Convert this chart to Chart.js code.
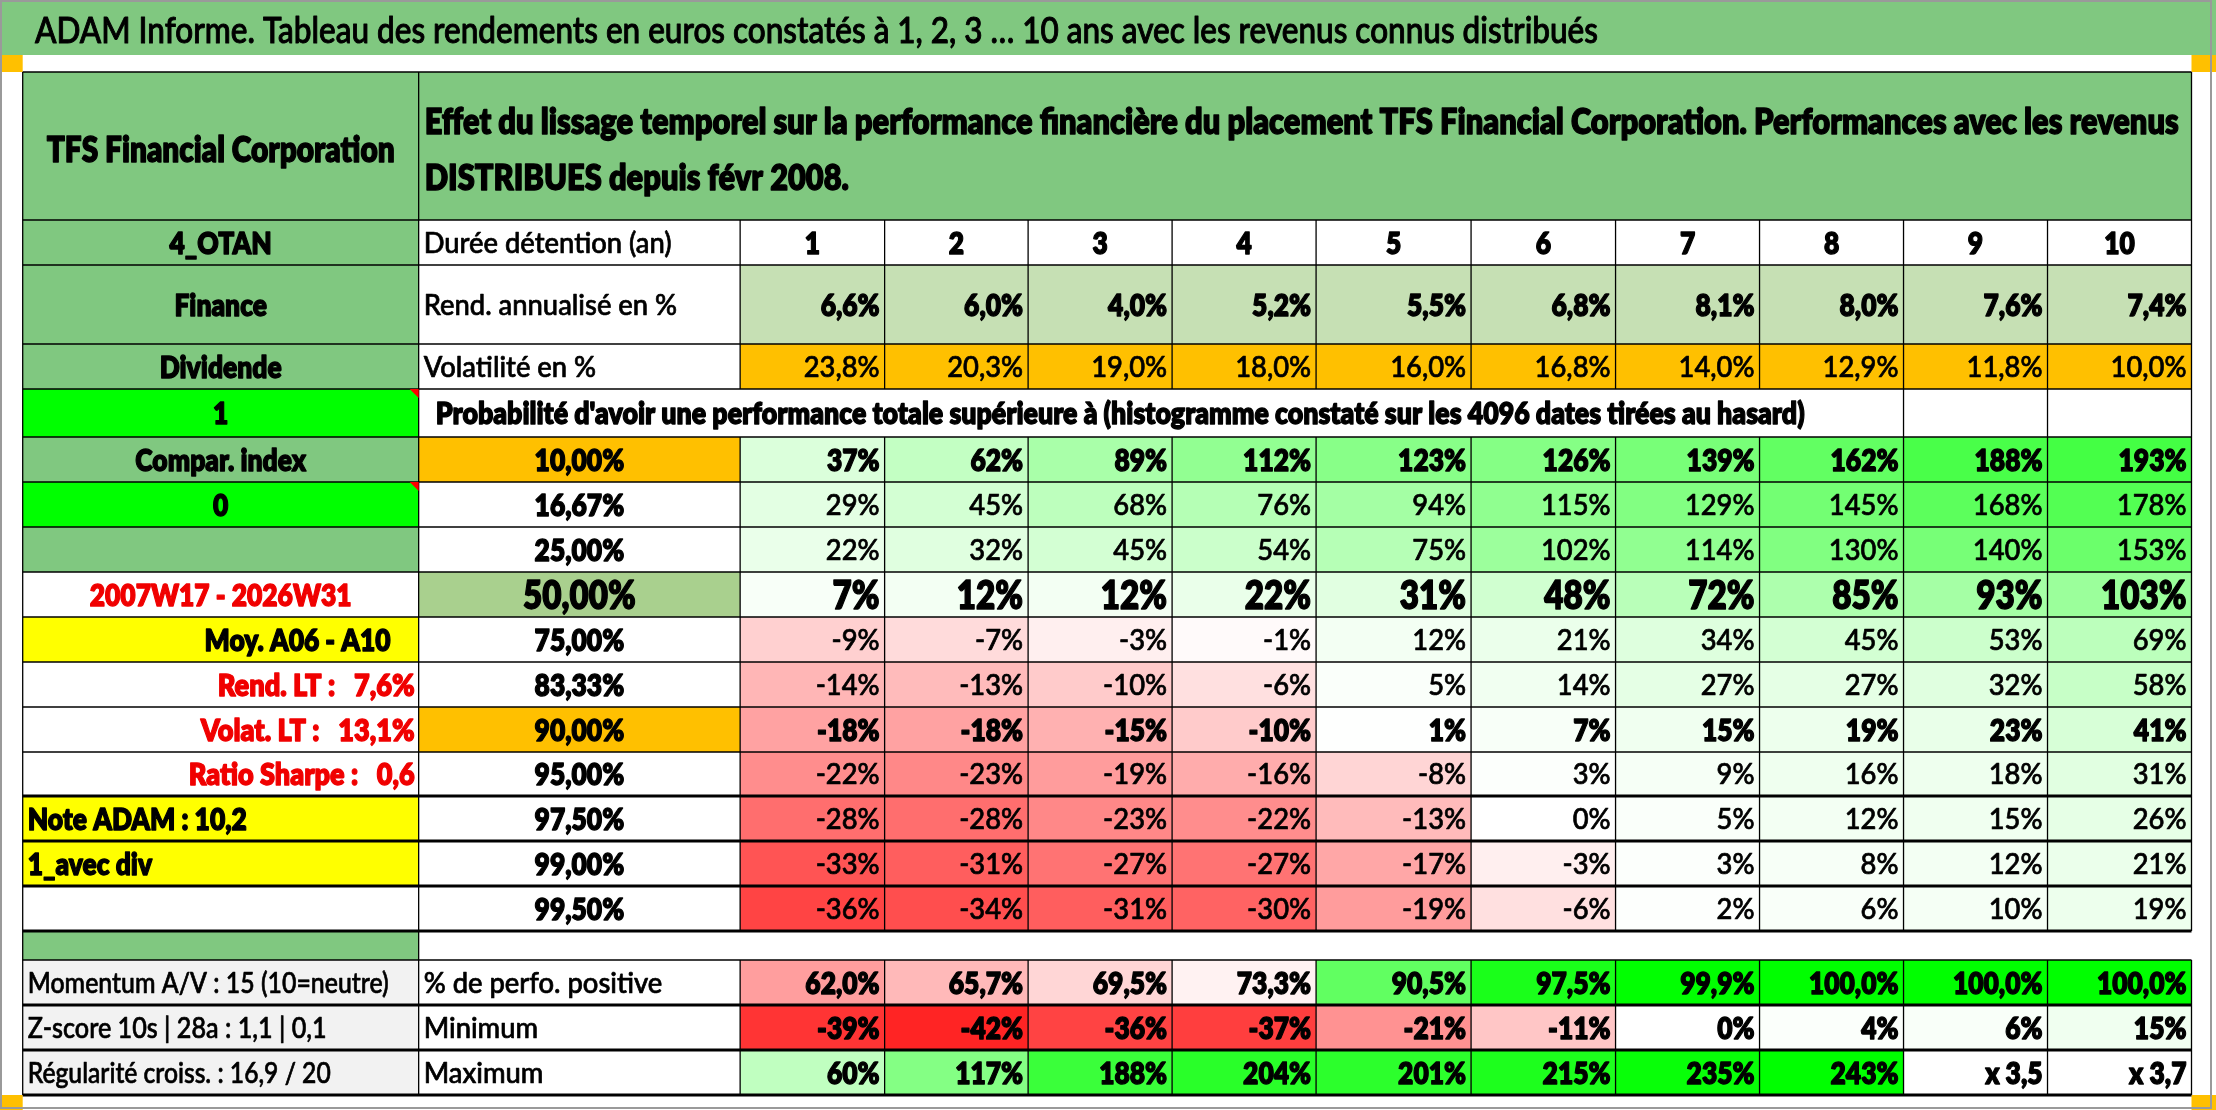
<!DOCTYPE html>
<html>
<head>
<meta charset="utf-8">
<script src="https://cdn.jsdelivr.net/npm/chart.js@4.4.1/dist/chart.umd.min.js"></script>
<style>
html, body { margin: 0; padding: 0; background: #fff; overflow: hidden; }
canvas { display: block; }
</style>
</head>
<body>
<canvas id="adam_table" width="2216" height="1110"></canvas>
<script>
var titre = 'ADAM Informe. Tableau des rendements en euros constatés à 1, 2, 3 … 10 ans avec les revenus connus distribués';
var enteteTexte = [
   'Effet du lissage temporel sur la performance financière du placement TFS Financial Corporation. Performances avec les revenus',
   'DISTRIBUES depuis févr 2008.'
];
var etiquettesGauche = ['TFS Financial Corporation', '4_OTAN', 'Finance', 'Dividende', '1', 'Compar. index', '0', '',
   '2007W17 - 2026W31', 'Moy. A06 - A10', 'Rend. LT :   7,6%', 'Volat. LT :   13,1%', 'Ratio Sharpe :   0,6',
   'Note ADAM : 10,2', '1_avec div', '', '', 'Momentum A/V : 15 (10=neutre)', 'Z-score 10s | 28a : 1,1 | 0,1',
   'Régularité croiss. : 16,9 / 20'];
var etiquettesLignes = ['Durée détention (an)', 'Rend. annualisé en %', 'Volatilité en %'];
var probaTexte = "Probabilité d'avoir une performance totale supérieure à (histogramme constaté sur les 4096 dates tirées au hasard)";
var etiquettesBas = ['% de perfo. positive', 'Minimum', 'Maximum'];

var durees = [1, 2, 3, 4, 5, 6, 7, 8, 9, 10];
var rendAnnualise = [6.6, 6.0, 4.0, 5.2, 5.5, 6.8, 8.1, 8.0, 7.6, 7.4];
var volatilite = [23.8, 20.3, 19.0, 18.0, 16.0, 16.8, 14.0, 12.9, 11.8, 10.0];
var seuils = [10, 16.67, 25, 50, 75, 83.33, 90, 95, 97.5, 99, 99.5];
var perfSeuils = [
   [37, 62, 89, 112, 123, 126, 139, 162, 188, 193],
   [29, 45, 68, 76, 94, 115, 129, 145, 168, 178],
   [22, 32, 45, 54, 75, 102, 114, 130, 140, 153],
   [7, 12, 12, 22, 31, 48, 72, 85, 93, 103],
   [-9, -7, -3, -1, 12, 21, 34, 45, 53, 69],
   [-14, -13, -10, -6, 5, 14, 27, 27, 32, 58],
   [-18, -18, -15, -10, 1, 7, 15, 19, 23, 41],
   [-22, -23, -19, -16, -8, 3, 9, 16, 18, 31],
   [-28, -28, -23, -22, -13, 0, 5, 12, 15, 26],
   [-33, -31, -27, -27, -17, -3, 3, 8, 12, 21],
   [-36, -34, -31, -30, -19, -6, 2, 6, 10, 19]
];
var perfPositive = [62.0, 65.7, 69.5, 73.3, 90.5, 97.5, 99.9, 100.0, 100.0, 100.0];
var perfMinimum = [-39, -42, -36, -37, -21, -11, 0, 4, 6, 15];
var perfMaximum = [60, 117, 188, 204, 201, 215, 235, 243];
var multipleMaximum = [3.5, 3.7];

// ---- mise en page (largeurs / hauteurs des cellules) ----
var colWidths = [396, 321.5, 144.5, 143.5, 144, 144, 155, 144.5, 144, 144, 144, 144];
var rowHeights = [148, 45, 79, 45, 48, 45, 45, 45, 45, 45, 45, 45, 44, 45, 45, 45, 29, 45, 45, 45];
var thickBelow = [12, 13, 14, 15, 17, 18, 19];

var FONT = 'Lato, "Open Sans", sans-serif';
var W_REG = '500', W_BOLD = '800';
var REG = 29, BOLD = 31, BIG = 39;
var VERT = '#80C880', VERT_CLAIR = '#C6E0B4', VERT_MOY = '#A9D08E', ORANGE = '#FFC000',
   VERT_VIF = '#00FF00', JAUNE = '#FFFF00', GRIS = '#F2F2F2', BLANC = '#FFFFFF', ROUGE = '#F00000';

var styleGauche = [
   { bg: VERT, al: 'c', b: 1, sz: 35 }, { bg: VERT, al: 'c', b: 1 }, { bg: VERT, al: 'c', b: 1 }, { bg: VERT, al: 'c', b: 1 },
   { bg: VERT_VIF, al: 'c', b: 1, tri: 1 }, { bg: VERT, al: 'c', b: 1 }, { bg: VERT_VIF, al: 'c', b: 1, tri: 1 }, { bg: VERT },
   { bg: BLANC, al: 'c', b: 1, col: ROUGE }, { bg: JAUNE, al: 'r', b: 1, pad: 24 },
   { bg: BLANC, al: 'r', b: 1, col: ROUGE, w: 197 }, { bg: BLANC, al: 'r', b: 1, col: ROUGE, w: 214 },
   { bg: BLANC, al: 'r', b: 1, col: ROUGE, w: 226 }, { bg: JAUNE, al: 'l', b: 1 },
   { bg: JAUNE, al: 'l', b: 1 }, { bg: BLANC }, { bg: VERT },
   { bg: GRIS, al: 'l', b: 0, w: 361 }, { bg: GRIS, al: 'l', b: 0, w: 299 }, { bg: GRIS, al: 'l', b: 0, w: 303 }
];

function cumul(a) {
   var r = [0];
   a.forEach(function (v) { r.push(r[r.length - 1] + v); });
   return r;
}
var colEdges = cumul(colWidths);
var rowEdges = cumul(rowHeights);

function mix(c1, c2, t) {
   return 'rgb(' + [0, 1, 2].map(function (i) { return Math.round(c1[i] + (c2[i] - c1[i]) * t); }).join(',') + ')';
}
function echelle(v, lo, mid, hi, cLo, cHi) {
   var w = [255, 255, 255];
   if (v <= mid) return mix(w, cLo, Math.min(1, (mid - v) / (mid - lo || 1)));
   return mix(w, cHi, Math.min(1, (v - mid) / (hi - mid)));
}
function pct(v, d) {
   return v.toFixed(d).replace('.', ',') + '%';
}

var sx = { r: 1, b: 1 };
function police(size, bold) {
   return (bold ? W_BOLD : W_REG) + ' ' + size + 'px ' + FONT;
}
function largeur(ctx, s, size, bold) {
   ctx.font = police(size, bold);
   return ctx.measureText(s).width;
}
// o : { k: facteur horizontal imposé, w: largeur visée, lw: épaisseur du trait }
function texte(ctx, s, x, yc, al, size, bold, color, o) {
   o = o || {};
   ctx.save();
   ctx.font = police(size, bold);
   var raw = ctx.measureText(s).width;
   var f = o.w ? o.w / raw : (o.k || (bold ? sx.b : sx.r));
   var w = raw * f;
   var x0 = al === 'c' ? x - w / 2 : (al === 'r' ? x - w : x);
   ctx.translate(x0, yc + size * 0.36);
   ctx.scale(f, 1);
   ctx.fillStyle = color || '#000';
   ctx.strokeStyle = color || '#000';
   ctx.lineWidth = o.lw || (bold ? 1.3 : 0.7);
   ctx.lineJoin = 'round';
   ctx.textAlign = 'left';
   ctx.textBaseline = 'alphabetic';
   ctx.fillText(s, 0, 0);
   ctx.strokeText(s, 0, 0);
   ctx.restore();
}

var tableau = {
   id: 'tableau',
   afterDraw: function (chart) {
      var ctx = chart.ctx;
      var xs = chart.scales.x, ys = chart.scales.y;
      var X = function (i) { return xs.getPixelForValue(colEdges[i]); };
      var Y = function (j) { return ys.getPixelForValue(rowEdges[j]); };
      var cell = function (c0, c1, r, color) {
         ctx.fillStyle = color;
         ctx.fillRect(X(c0), Y(r), X(c1) - X(c0), Y(r + 1) - Y(r));
      };
      var mid = function (r) { return (Y(r) + Y(r + 1)) / 2; };

      sx.r = 248 / largeur(ctx, 'Durée détention (an)', REG, false);
      sx.b = 348 / largeur(ctx, 'TFS Financial Corporation', 35, true);

      // bandeau titre
      var W = chart.width;
      ctx.fillStyle = VERT;
      ctx.fillRect(0, 0, W, 55);
      ctx.fillStyle = '#FFC000';
      ctx.fillRect(0, 55, X(0), 17);
      ctx.fillRect(X(12), 55, W - X(12), 17);
      ctx.fillRect(0, Y(20), X(0), chart.height - Y(20));
      ctx.fillRect(X(12), Y(20), W - X(12), chart.height - Y(20));
      texte(ctx, titre, 35, 30, 'l', 36, false, '#000', { w: 1563, lw: 1 });

      // fonds de cellules
      styleGauche.forEach(function (st, r) { cell(0, 1, r, st.bg); });
      cell(1, 12, 0, VERT);
      for (var i = 0; i < 10; i++) {
         cell(i + 2, i + 3, 2, VERT_CLAIR);
         cell(i + 2, i + 3, 3, ORANGE);
      }
      var flat = [].concat.apply([], perfSeuils);
      var lo = Math.min.apply(null, flat), hi = Math.max.apply(null, flat);
      seuils.forEach(function (s, k) {
         var r = k + 5;
         var bg = (k === 0 || k === 6) ? ORANGE : (k === 3 ? VERT_MOY : BLANC);
         cell(1, 2, r, bg);
         perfSeuils[k].forEach(function (v, i) {
            cell(i + 2, i + 3, r, echelle(v, lo, 0, hi, [255, 68, 68], [68, 255, 68]));
         });
      });
      var maxHi = Math.max.apply(null, perfMaximum);
      for (i = 0; i < 10; i++) {
         cell(i + 2, i + 3, 17, echelle(perfPositive[i], 50, 75, 100, [255, 68, 68], [0, 255, 0]));
         cell(i + 2, i + 3, 18, echelle(perfMinimum[i], -42, 0, 250, [255, 36, 36], [0, 255, 0]));
         cell(i + 2, i + 3, 19, i < perfMaximum.length ? echelle(perfMaximum[i], 0, 0, maxHi, [255, 255, 255], [0, 255, 0]) : BLANC);
      }

      // traits
      ctx.strokeStyle = '#000';
      var hline = function (c0, c1, r, w) {
         ctx.lineWidth = w;
         ctx.beginPath(); ctx.moveTo(X(c0), Y(r)); ctx.lineTo(X(c1), Y(r)); ctx.stroke();
      };
      var vline = function (c, r0, r1, w) {
         ctx.lineWidth = w || 1.3;
         ctx.beginPath(); ctx.moveTo(X(c), Y(r0)); ctx.lineTo(X(c), Y(r1)); ctx.stroke();
      };
      for (var r = 0; r <= 20; r++) {
         hline(0, 12, r, thickBelow.indexOf(r - 1) >= 0 ? 3 : 1.4);
      }
      vline(0, 0, 20); vline(12, 0, 16); vline(12, 17, 20);
      vline(1, 0, 20);
      for (var c = 2; c <= 11; c++) {
         vline(c, 1, 4);
         vline(c, 5, 16);
         vline(c, 17, 20);
      }
      vline(10, 4, 5); vline(11, 4, 5);
      // coins commentaires
      [4, 6].forEach(function (rr) {
         ctx.fillStyle = '#FF0000';
         ctx.beginPath();
         ctx.moveTo(X(1) - 9, Y(rr));
         ctx.lineTo(X(1), Y(rr));
         ctx.lineTo(X(1), Y(rr) + 9);
         ctx.closePath(); ctx.fill();
      });

      // textes colonne gauche
      etiquettesGauche.forEach(function (s, r) {
         if (!s) return;
         var st = styleGauche[r];
         var x = st.al === 'c' ? (X(0) + X(1)) / 2 : (st.al === 'r' ? X(1) - 4 - (st.pad || 0) : X(0) + 5);
         texte(ctx, s, x, mid(r) + (r === 0 ? 3 : 0), st.al, st.sz || (st.b ? BOLD : REG), st.b, st.col, { w: st.w });
      });
      // entête
      var k0 = 1754 / largeur(ctx, enteteTexte[0], 35, true);
      texte(ctx, enteteTexte[0], X(1) + 6, 121, 'l', 35, true, '#000', { k: k0 });
      texte(ctx, enteteTexte[1], X(1) + 6, 177, 'l', 35, true, '#000', { k: k0 });
      etiquettesLignes.forEach(function (s, k) {
         texte(ctx, s, X(1) + 5, mid(k + 1), 'l', REG, false);
      });
      durees.forEach(function (d, i) {
         texte(ctx, String(d), (X(i + 2) + X(i + 3)) / 2, mid(1), 'c', BOLD, true);
         texte(ctx, pct(rendAnnualise[i], 1), X(i + 3) - 5, mid(2), 'r', BOLD, true);
         texte(ctx, pct(volatilite[i], 1), X(i + 3) - 5, mid(3), 'r', REG, false);
      });
      texte(ctx, probaTexte, X(1) + 17, mid(4), 'l', BOLD, true, '#000', { w: 1369 });
      seuils.forEach(function (s, k) {
         var r = k + 5;
         var gras = (k === 0 || k === 3 || k === 6);
         var sz = k === 3 ? BIG : (gras ? BOLD : REG);
         texte(ctx, pct(s, 2), (X(1) + X(2)) / 2, mid(r), 'c', k === 3 ? BIG : BOLD, true);
         perfSeuils[k].forEach(function (v, i) {
            texte(ctx, v + '%', X(i + 3) - 5, mid(r), 'r', sz, gras);
         });
      });
      etiquettesBas.forEach(function (s, k) {
         texte(ctx, s, X(1) + 5, mid(k + 17), 'l', REG, false);
      });
      for (i = 0; i < 10; i++) {
         texte(ctx, pct(perfPositive[i], 1), X(i + 3) - 5, mid(17), 'r', BOLD, true);
         texte(ctx, perfMinimum[i] + '%', X(i + 3) - 5, mid(18), 'r', BOLD, true);
         var m = i < perfMaximum.length ? perfMaximum[i] + '%' : 'x ' + String(multipleMaximum[i - perfMaximum.length]).replace('.', ',');
         texte(ctx, m, X(i + 3) - 5, mid(19), 'r', BOLD, true);
      }

      // cadre de la fenêtre
      ctx.strokeStyle = '#9A9A9A';
      ctx.lineWidth = 2;
      ctx.strokeRect(1, 1, W - 6, chart.height - 3);
   }
};

new Chart(document.getElementById('adam_table').getContext('2d'), {
   type: 'scatter',
   data: { datasets: [{ data: [] }] },
   options: {
      responsive: false,
      animation: false,
      devicePixelRatio: 1,
      layout: { padding: { left: 22.7, top: 72, right: 24.5, bottom: 15 } },
      scales: {
         x: { type: 'linear', min: 0, max: colEdges[colEdges.length - 1], display: false },
         y: { type: 'linear', min: 0, max: rowEdges[rowEdges.length - 1], reverse: true, display: false }
      },
      plugins: { legend: { display: false }, tooltip: { enabled: false }, title: { display: false } }
   },
   plugins: [tableau]
});
</script>
</body>
</html>
